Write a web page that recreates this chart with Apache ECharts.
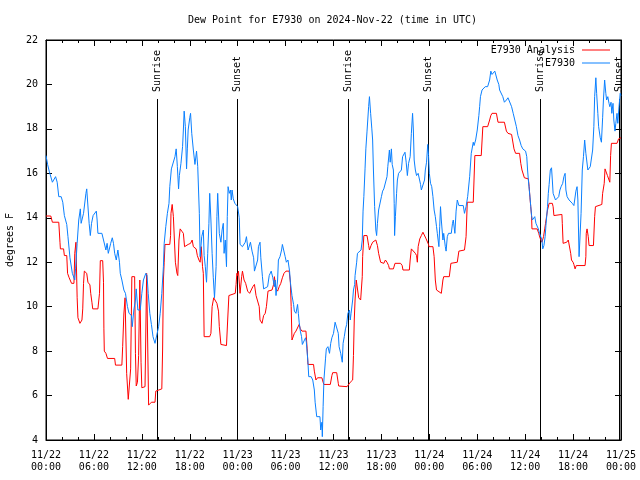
<!DOCTYPE html>
<html>
<head>
<meta charset="utf-8">
<script src="https://cdn.jsdelivr.net/npm/echarts@6/dist/echarts.min.js"></script>
<style>html,body{margin:0;padding:0;background:#fff}#c{width:640px;height:480px}</style>
</head>
<body>
<div id="c"></div>
<script>
// hours since 2024-11-22 00:00 UTC, value in degrees F
const analysisSeries = [
[0,14.08],[0.6,14.08],[0.8,13.8],[1.6,13.8],[1.75,12.9],[1.8,12.6],[2.2,12.6],[2.3,12.3],[2.6,12.3],[2.7,11.5],[2.9,11.3],[3.1,11.25],[3.2,11.05],[3.5,11.05],[3.6,12.4],[3.75,12.9],[3.85,11.2],[3.9,10.4],[4.0,9.5],[4.25,9.25],[4.5,9.4],[4.6,9.9],[4.7,11.05],[4.8,11.6],[5.1,11.5],[5.25,11.1],[5.5,10.98],[5.6,10.6],[5.75,10.2],[5.85,9.9],[6.5,9.9],[6.7,10.6],[6.8,12.07],[7.1,12.07],[7.2,11.1],[7.25,9.0],[7.3,8.0],[7.5,7.9],[7.7,7.67],[8.6,7.67],[8.7,7.37],[9.5,7.37],[9.6,8.2],[9.75,9.67],[9.9,10.4],[10.0,10.4],[10.1,7.0],[10.3,5.83],[10.5,5.83],[10.6,7.2],[10.75,11.35],[11.1,11.35],[11.2,7.9],[11.3,6.43],[11.45,6.6],[11.6,7.8],[11.75,11.2],[11.85,11.2],[11.9,7.5],[12.0,6.35],[12.4,6.4],[12.45,7.6],[12.6,11.5],[12.77,11.5],[12.85,5.57],[13.1,5.57],[13.2,5.7],[13.65,5.7],[13.75,6.2],[13.95,6.25],[14.5,6.3],[14.6,8.05],[14.7,11.2],[14.8,12.0],[14.9,12.8],[15.5,12.8],[15.6,13.2],[15.65,14.2],[15.8,14.6],[15.95,14.05],[16.1,14.05],[16.2,12.0],[16.4,11.5],[16.5,11.4],[16.65,13.0],[16.8,13.5],[17.0,13.4],[17.2,13.3],[17.35,12.7],[17.6,12.7],[17.8,12.8],[18.1,12.85],[18.3,13.0],[18.45,12.7],[18.8,12.6],[18.95,12.3],[19.15,12.1],[19.3,12.0],[19.45,12.7],[19.6,11.8],[19.7,11.5],[19.8,8.65],[20.0,8.7],[20.5,8.65],[20.65,8.8],[20.8,10.0],[21.0,10.4],[21.4,10.15],[21.6,9.8],[21.7,9.1],[21.9,8.3],[22.6,8.25],[22.75,9.4],[22.9,10.5],[23.7,10.6],[23.8,11.0],[23.9,11.5],[24.0,11.4],[24.1,11.6],[24.3,10.6],[24.5,11.35],[24.6,11.6],[24.8,11.2],[25.0,11.05],[25.25,10.7],[25.5,10.6],[25.7,10.75],[25.9,10.9],[26.1,11.0],[26.3,10.5],[26.5,10.45],[26.7,10.0],[26.8,9.4],[27.05,9.25],[27.25,9.6],[27.45,9.7],[27.6,10.0],[27.8,10.7],[28.05,10.75],[28.3,10.75],[28.5,11.0],[28.6,11.35],[28.8,10.8],[29.0,10.7],[29.2,10.9],[29.4,11.05],[29.6,11.3],[29.8,11.5],[30.05,11.6],[30.45,11.6],[30.6,11.1],[30.7,10.0],[30.8,8.5],[30.95,8.5],[31.1,8.8],[31.3,8.9],[31.5,8.9],[31.7,9.2],[31.85,9.0],[32.05,8.9],[32.55,8.9],[32.7,8.1],[32.8,7.4],[33.5,7.4],[33.6,7.1],[33.8,6.7],[34.0,6.8],[34.55,6.8],[34.7,6.6],[34.8,6.5],[35.6,6.5],[35.8,6.9],[35.9,7.03],[36.4,7.03],[36.6,6.55],[36.65,6.43],[37.7,6.4],[37.9,6.4],[38.1,6.6],[38.4,6.7],[38.5,7.8],[38.6,9.4],[38.7,10.3],[38.85,11.2],[39.05,11.2],[39.15,10.4],[39.4,10.3],[39.6,11.35],[39.65,12.25],[39.8,13.2],[40.0,13.25],[40.2,13.2],[40.4,12.75],[40.5,12.55],[40.7,12.75],[40.9,12.9],[41.3,13.0],[41.5,12.75],[41.65,12.4],[41.9,12.0],[42.3,11.95],[42.5,12.1],[42.7,12.0],[42.9,11.85],[43.0,11.7],[43.5,11.7],[43.7,11.95],[44.4,11.95],[44.6,11.85],[44.7,11.65],[45.5,11.65],[45.6,12.1],[45.75,12.6],[46.0,12.6],[46.25,12.4],[46.4,12.3],[46.5,12.0],[46.6,12.7],[46.8,13.05],[47.0,13.2],[47.2,13.35],[47.4,13.3],[47.6,13.05],[47.8,13.05],[47.9,12.8],[47.95,12.7],[48.45,12.7],[48.6,12.25],[48.75,11.2],[48.9,10.75],[49.5,10.6],[49.7,11.2],[49.8,11.35],[50.5,11.35],[50.7,11.95],[50.85,12.0],[51.5,12.0],[51.7,12.5],[51.8,12.55],[52.4,12.55],[52.6,13.15],[52.75,14.7],[53.5,14.7],[53.7,16.8],[54.5,16.8],[54.7,18.1],[55.3,18.1],[55.55,18.4],[55.7,18.6],[55.85,18.7],[56.4,18.7],[56.6,18.3],[57.4,18.3],[57.65,17.9],[57.85,17.8],[58.3,17.75],[58.5,17.7],[58.6,17.1],[58.8,16.9],[59.3,16.9],[59.45,16.45],[59.6,16.15],[59.85,16.15],[59.9,15.8],[60.4,15.75],[60.5,15.4],[60.6,14.9],[60.7,14.5],[60.8,14.1],[60.85,13.5],[61.5,13.5],[61.7,13.3],[61.85,13.1],[62.0,13.1],[62.1,12.9],[62.3,13.15],[62.45,13.5],[62.55,13.75],[62.8,14.35],[63.0,14.65],[63.2,14.7],[63.4,14.65],[63.5,14.5],[63.6,14.1],[64.6,14.15],[64.65,13.75],[64.75,12.85],[64.95,12.85],[65.2,12.9],[65.4,13.0],[65.55,12.95],[65.7,12.4],[65.8,12.1],[66.0,12.0],[66.1,11.9],[66.25,11.7],[66.4,11.85],[67.5,11.85],[67.6,12.25],[67.65,13.3],[67.75,13.5],[67.9,13.15],[68.0,12.75],[68.55,12.75],[68.7,14.05],[68.8,14.5],[69.6,14.6],[69.7,15.1],[69.9,15.55],[70.0,16.2],[70.2,16.2],[70.3,15.9],[70.5,15.95],[70.6,15.6],[70.7,16.8],[70.8,17.35],[71.5,17.35],[71.7,17.55],[72.0,17.6]
];
const stationSeries = [
[0,16.8],[0.1,16.8],[0.2,16.4],[0.4,16.1],[0.8,15.6],[1.2,15.85],[1.4,15.6],[1.6,14.95],[1.9,14.95],[2.1,14.7],[2.3,14.1],[2.6,13.7],[2.75,13.15],[3.0,12.2],[3.3,11.5],[3.6,11.2],[3.7,11.7],[3.9,12.85],[4.1,13.9],[4.3,14.4],[4.4,13.75],[4.7,14.2],[5.0,15.1],[5.1,15.3],[5.3,15.3],[5.4,13.75],[5.55,13.2],[5.7,13.75],[5.9,14.1],[6.3,14.3],[6.4,13.9],[6.5,13.3],[7.0,13.3],[7.2,13.0],[7.5,12.55],[7.65,12.85],[7.8,12.4],[8.1,12.85],[8.3,13.1],[8.45,12.85],[8.6,12.4],[8.8,12.1],[9.0,12.55],[9.2,12.0],[9.3,11.5],[9.5,11.2],[9.75,10.75],[9.95,10.6],[10.2,10.0],[10.4,9.7],[10.7,9.6],[10.8,9.1],[11.0,9.85],[11.2,10.3],[11.3,10.8],[11.5,9.85],[11.8,9.85],[12.0,10.6],[12.2,11.2],[12.5,11.5],[12.65,11.4],[12.8,10.6],[13.0,9.7],[13.2,9.2],[13.4,8.65],[13.65,8.35],[13.85,8.35],[14.1,9.1],[14.3,9.7],[14.5,10.6],[14.7,11.8],[14.8,12.85],[15.0,13.6],[15.2,14.2],[15.4,14.65],[15.5,15.4],[15.7,16.2],[15.95,16.2],[16.15,16.75],[16.3,17.1],[16.45,16.3],[16.6,15.3],[16.7,15.9],[16.9,16.45],[17.1,17.2],[17.2,17.95],[17.3,18.8],[17.45,18.1],[17.6,16.2],[17.7,17.1],[17.8,17.95],[18.0,18.5],[18.1,18.7],[18.25,17.8],[18.45,17.05],[18.65,16.4],[18.85,17.0],[19.0,16.3],[19.2,14.2],[19.3,12.25],[19.4,12.7],[19.5,13.15],[19.7,13.45],[19.8,12.3],[19.95,11.8],[20.1,11.1],[20.25,12.4],[20.4,13.75],[20.5,15.1],[20.65,13.9],[20.8,12.4],[20.95,11.3],[21.1,10.4],[21.3,11.8],[21.4,14.05],[21.5,15.1],[21.7,13.3],[21.9,12.9],[22.05,13.45],[22.2,13.75],[22.3,12.4],[22.45,13.0],[22.6,11.8],[22.7,14.05],[22.8,15.4],[22.95,15.1],[23.1,15.25],[23.2,14.8],[23.3,15.25],[23.45,14.85],[23.65,14.65],[23.87,14.7],[24.0,14.5],[24.2,14.0],[24.3,12.8],[24.6,12.7],[24.8,12.7],[24.95,12.9],[25.1,13.15],[25.3,12.55],[25.5,12.5],[25.6,12.9],[25.8,12.5],[26.0,12.2],[26.1,11.6],[26.3,11.6],[26.5,12.1],[26.6,12.7],[26.8,12.9],[26.9,12.2],[27.1,11.35],[27.25,10.8],[27.5,10.75],[27.75,10.9],[27.95,11.4],[28.2,11.6],[28.4,11.3],[28.6,10.9],[28.7,11.2],[28.8,10.5],[29.0,11.2],[29.1,12.1],[29.3,12.25],[29.5,12.55],[29.6,12.8],[29.8,12.8],[29.95,12.25],[30.1,12.0],[30.3,12.1],[30.5,11.6],[30.6,11.1],[30.8,10.5],[31.0,10.1],[31.1,9.8],[31.3,9.7],[31.5,10.1],[31.6,9.7],[31.7,9.3],[31.85,8.9],[32.0,8.65],[32.1,8.3],[32.35,8.35],[32.5,8.6],[32.6,8.4],[32.8,7.5],[32.9,6.85],[33.2,6.85],[33.4,6.7],[33.6,6.25],[33.7,5.7],[33.9,5.05],[34.1,5.0],[34.3,5.05],[34.4,4.45],[34.55,4.8],[34.6,4.15],[34.7,5.5],[34.8,6.7],[35.0,7.65],[35.1,8.1],[35.3,8.2],[35.5,7.9],[35.65,8.35],[35.8,8.6],[36.0,8.8],[36.2,9.3],[36.4,9.3],[36.6,8.8],[36.7,8.2],[36.9,7.9],[37.1,7.5],[37.2,8.35],[37.35,8.65],[37.5,9.0],[37.65,9.2],[37.8,9.7],[38.0,9.85],[38.1,9.4],[38.2,9.7],[38.4,10.3],[38.5,10.75],[38.65,11.0],[38.7,11.4],[38.9,12.0],[39.0,12.4],[39.2,12.4],[39.45,12.55],[39.6,13.0],[39.7,14.3],[39.8,14.95],[39.95,16.2],[40.05,17.1],[40.2,17.9],[40.4,19.0],[40.5,19.45],[40.65,18.7],[40.8,18.0],[40.9,17.5],[41.0,16.15],[41.15,14.5],[41.3,13.45],[41.4,13.2],[41.5,13.75],[41.65,14.35],[41.8,14.35],[42.0,14.95],[42.15,15.2],[42.3,15.3],[42.5,15.3],[42.7,15.85],[42.8,16.3],[43.0,17.05],[43.1,16.5],[43.25,17.1],[43.35,16.4],[43.5,16.15],[43.6,14.65],[43.65,13.2],[43.75,14.05],[43.9,15.1],[44.0,15.7],[44.15,16.0],[44.3,16.0],[44.5,16.15],[44.65,16.75],[44.8,16.8],[44.95,16.95],[45.1,16.5],[45.25,15.9],[45.4,16.45],[45.6,16.75],[45.75,17.8],[45.9,18.7],[46.0,17.95],[46.1,16.6],[46.25,16.15],[46.4,15.9],[46.6,16.0],[46.75,16.0],[46.9,15.5],[47.0,15.25],[47.2,15.25],[47.4,15.7],[47.5,16.15],[47.65,16.5],[47.8,17.3],[47.9,16.8],[48.0,16.0],[48.15,15.55],[48.3,15.4],[48.45,14.95],[48.6,14.35],[48.75,14.05],[48.9,13.6],[49.0,13.3],[49.1,13.0],[49.2,12.7],[49.3,13.6],[49.4,14.5],[49.5,13.9],[49.7,13.0],[49.8,13.3],[50.0,12.7],[50.1,12.5],[50.25,13.15],[50.4,13.3],[50.75,13.3],[50.9,13.75],[51.0,13.9],[51.2,13.3],[51.35,14.3],[51.5,14.8],[51.7,14.55],[52.25,14.55],[52.4,14.2],[52.6,14.5],[52.8,14.95],[53.05,15.85],[53.25,16.9],[53.5,17.4],[53.6,17.25],[53.8,17.5],[54.0,17.95],[54.2,18.6],[54.3,19.0],[54.4,19.45],[54.6,19.75],[54.8,19.75],[55.0,19.9],[55.3,19.9],[55.55,20.2],[55.7,20.6],[55.85,20.45],[56.0,20.5],[56.2,20.6],[56.4,20.6],[56.5,20.2],[56.7,20.0],[56.8,19.75],[57.0,19.75],[57.2,19.45],[57.4,19.2],[57.65,19.3],[57.85,19.4],[58.05,19.35],[58.3,19.0],[58.5,18.7],[58.7,18.4],[58.9,18.1],[59.1,17.7],[59.3,17.5],[59.5,17.25],[59.7,17.1],[59.9,17.05],[60.05,17.0],[60.2,16.75],[60.3,16.15],[60.4,15.7],[60.5,15.3],[60.6,14.95],[60.7,14.5],[60.8,14.1],[60.9,13.9],[61.1,13.9],[61.2,14.05],[61.35,13.75],[61.5,13.75],[61.65,13.5],[61.8,13.3],[61.95,13.3],[62.1,13.0],[62.2,12.6],[62.35,12.75],[62.5,13.15],[62.6,13.65],[62.8,14.5],[62.9,15.1],[63.0,15.5],[63.15,16.15],[63.3,16.25],[63.4,15.7],[63.5,15.1],[63.65,15.1],[63.8,14.8],[64.0,14.8],[64.2,14.95],[64.35,15.25],[64.5,15.4],[64.7,15.55],[64.85,15.85],[65.0,16.0],[65.1,15.25],[65.25,14.95],[65.5,14.8],[65.7,14.8],[65.9,14.65],[66.1,14.55],[66.2,14.8],[66.35,15.2],[66.5,15.4],[66.6,14.8],[66.75,12.25],[66.85,13.0],[67.0,14.2],[67.15,16.15],[67.3,16.75],[67.45,17.5],[67.6,16.9],[67.7,16.9],[67.85,16.15],[68.0,16.15],[68.15,16.3],[68.3,16.25],[68.45,17.05],[68.6,18.1],[68.7,19.45],[68.85,20.3],[68.95,19.6],[69.1,18.7],[69.2,18.1],[69.4,17.6],[69.55,17.4],[69.7,18.5],[69.8,19.3],[69.95,20.2],[70.1,19.6],[70.2,19.3],[70.35,19.45],[70.5,19.15],[70.6,19.0],[70.75,19.2],[70.85,18.7],[71.0,19.15],[71.1,18.4],[71.25,17.9],[71.35,18.25],[71.5,18.7],[71.6,18.25],[71.75,19.0],[71.9,19.6],[72.0,19.5]
];
const sunTimes = [13.94, 23.88, 37.86, 47.88, 61.9, 71.8];
const sunLabels = ['Sunrise', 'Sunset', 'Sunrise', 'Sunset', 'Sunrise', 'Sunset'];
const xTickLabels = ['11/22\n00:00','11/22\n06:00','11/22\n12:00','11/22\n18:00','11/23\n00:00','11/23\n06:00','11/23\n12:00','11/23\n18:00','11/24\n00:00','11/24\n06:00','11/24\n12:00','11/24\n18:00','11/25\n00:00'];
const seriesNames = ['E7930 Analysis', 'E7930'];
const titleText = 'Dew Point for E7930 on 2024-Nov-22 (time in UTC)';
const yName = 'degrees F';

const FONT = 'DejaVu Sans Mono';
const SUN_LINE_TOP = 19.35;

const chart = echarts.init(document.getElementById('c'), null, {renderer: 'canvas'});
const baseX = {
  type: 'value', min: 0, max: 72, interval: 6,
  axisLine: {show: true, onZero: false, lineStyle: {color: '#000', width: 1}},
  axisTick: {show: true, inside: true, length: 6, lineStyle: {color: '#000'}},
  minorTick: {show: true, splitNumber: 3, length: 3, lineStyle: {color: '#000'}},
  splitLine: {show: false}, minorSplitLine: {show: false}
};
const baseY = {
  type: 'value', min: 4, max: 22, interval: 2,
  axisLine: {show: true, onZero: false, lineStyle: {color: '#000', width: 1}},
  axisTick: {show: true, inside: true, length: 6, lineStyle: {color: '#000'}},
  splitLine: {show: false}
};
chart.setOption({
  animation: false,
  backgroundColor: '#fff',
  title: {text: titleText, left: 188, top: 15, padding: 0,
    textStyle: {fontFamily: FONT, fontSize: 10, fontWeight: 'normal', color: '#000'}},
  legend: {
    orient: 'vertical', right: 30, top: 45, padding: 0, align: 'right', itemWidth: 28, itemHeight: 1, itemGap: 3,
    icon: 'rect',
    textStyle: {fontFamily: FONT, fontSize: 10, color: '#000', padding: [0, 2, 0, 0]},
    data: seriesNames
  },
  grid: {left: 46, right: 19, top: 40, bottom: 40, show: true, borderColor: '#000', borderWidth: 1,
    containLabel: false, outerBoundsMode: 'none'},
  xAxis: [
    Object.assign({}, baseX, {position: 'bottom',
      axisLabel: {show: true, margin: 9, fontFamily: FONT, fontSize: 10, color: '#000', lineHeight: 12,
        formatter: v => xTickLabels[Math.round(v / 6)]}}),
    Object.assign({}, baseX, {position: 'top', axisLabel: {show: false}})
  ],
  yAxis: [
    Object.assign({}, baseY, {position: 'left', name: yName, nameLocation: 'middle', nameGap: 30, nameRotate: 90,
      nameTextStyle: {fontFamily: FONT, fontSize: 10, color: '#000'},
      axisLabel: {show: true, margin: 8, fontFamily: FONT, fontSize: 10, color: '#000'}}),
    Object.assign({}, baseY, {position: 'right', axisLabel: {show: false}})
  ],
  series: [
    {
      type: 'custom', name: 'sun', xAxisIndex: 0, yAxisIndex: 0, silent: true, z: 3,
      data: sunTimes.map((t, i) => [t, i]),
      encode: {x: 0},
      renderItem: function (params, api) {
        const t = api.value(0);
        const pb = api.coord([t, 4]);
        const pt = api.coord([t, SUN_LINE_TOP]);
        const x = Math.round(pb[0]) + 0.5;
        return {type: 'group', children: [
          {type: 'line', shape: {x1: x, y1: Math.round(pt[1]), x2: x, y2: pb[1]}, style: {stroke: '#000', lineWidth: 1}},
          {type: 'text', x: x, y: Math.round(pt[1]) - 7, rotation: Math.PI / 2,
            style: {text: sunLabels[params.dataIndex], fill: '#000', font: '10px ' + FONT, align: 'left', verticalAlign: 'middle'}}
        ]};
      }
    },
    {type: 'line', name: seriesNames[0], data: analysisSeries, symbol: 'none', showSymbol: false,
      lineStyle: {color: '#ff0000', width: 1}, itemStyle: {color: '#ff0000'}, z: 4},
    {type: 'line', name: seriesNames[1], data: stationSeries, symbol: 'none', showSymbol: false,
      lineStyle: {color: '#0a80ff', width: 1}, itemStyle: {color: '#0a80ff'}, z: 5}
  ]
});
</script>
</body>
</html>
